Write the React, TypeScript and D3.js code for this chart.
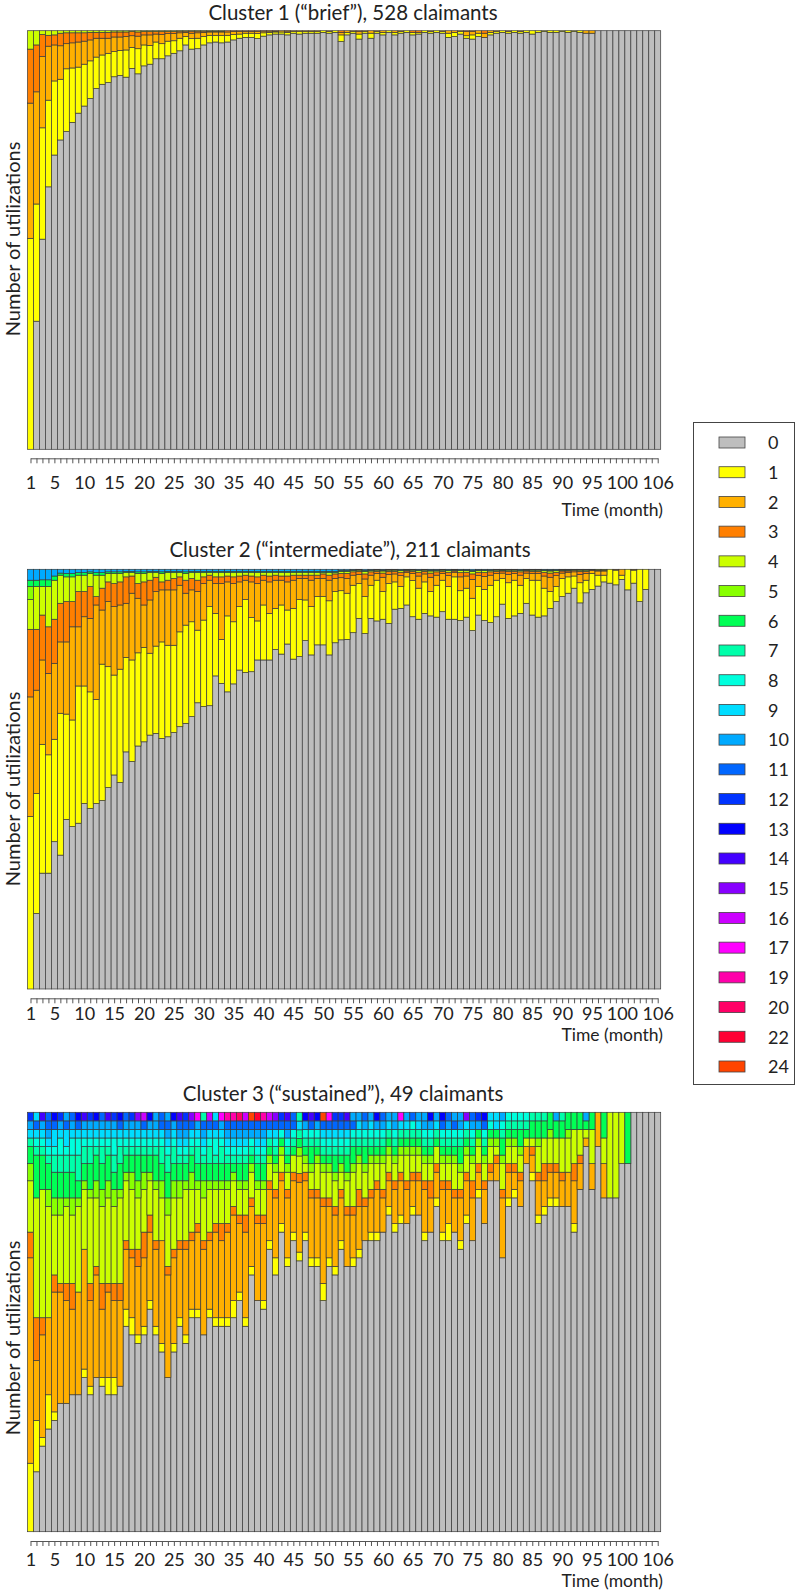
import { useEffect, useRef } from "react";
import * as d3 from "d3";

const FONT = "Lato, 'Open Sans', sans-serif";

const months = d3.range(1, 107);
const tickLabels = [1, 5, 10, 15, 20, 25, 30, 35, 40, 45, 50, 55, 60, 65, 70, 75, 80, 85, 90, 95, 100, 106];

const legendStates = ["0", "1", "2", "3", "4", "5", "6", "7", "8", "9", "10", "11", "12", "13", "14", "15", "16", "17", "19", "20", "22", "24"];
const legendColors = [
  "#bebebe", "#ffff00", "#ffb000", "#ff7f00", "#ccff00", "#88ff00", "#00ff55", "#00ffaa", "#00ffdd", "#00ddff",
  "#00aaff", "#0066ff", "#0033ff", "#0000ff", "#4400ff", "#8800ff", "#cc00ff", "#ff00ff", "#ff00aa", "#ff0066",
  "#ff0033", "#ff4400",
];
const colorOf = (s: string) => legendColors[legendStates.indexOf(s)] || "#bebebe";

// ---- Cluster 1 ("brief"), share of claimants in % (trailing values not listed are 0)
const p1Gray = [0, 30.6, 50.2, 62.7, 70.3, 73.9, 75.9, 78.1, 80.3, 82.0,
  83.8, 86.2, 87.2, 87.6, 89.0, 89.3, 88.9, 91.0, 89.7, 91.6,
  92.0, 93.3, 93.3, 94.0, 94.6, 95.2, 96.6, 95.6, 95.7, 96.6,
  97.1, 97.3, 97.1, 97.3, 97.8, 98.2, 98.4, 98.4, 98.1, 98.7,
  99.0, 99.2, 99.2, 99.0, 99.4, 99.2, 99.4, 99.4, 99.4, 99.6,
  99.4, 99.6, 97.4, 99.0, 99.4, 98.0, 99.4, 98.2, 99.4, 99.0,
  99.6, 99.0, 99.4, 99.6, 99.0, 99.2, 99.6, 99.4, 99.6, 99.4,
  98.4, 98.6, 99.2, 98.2, 98.0, 98.6, 98.4, 99.0, 99.4, 99.6,
  99.4, 99.6, 99.4, 99.6, 99.2, 99.6, 99.8, 99.6, 99.6, 99.8,
  99.6, 99.8, 99.6, 99.4, 99.4, 100, 100, 100, 100, 100,
  100, 100, 100, 100, 100, 100];
const p1One = [50.4, 28.0, 26.6, 20.7, 17.7, 14.5, 15.0, 13.0, 11.0, 10.0,
  9.0, 7.5, 7.0, 7.0, 6.0, 6.0, 6.5, 5.0, 6.0, 5.0,
  4.5, 4.0, 3.6, 3.5, 3.0, 3.0, 2.0, 2.5, 2.5, 2.0,
  1.8, 1.6, 1.8, 1.6, 1.3, 1.0, 1.0, 1.0, 1.2, 0.8,
  0.6, 0.5, 0.5, 0.6, 0.4, 0.6, 0.4, 0.4, 0.4, 0.4,
  0.4, 0.4, 1.6, 0.6, 0.4, 1.2, 0.4, 1.2, 0.4, 0.6,
  0.4, 0.6, 0.4, 0.4, 0.6, 0.4, 0.4, 0.4, 0.4, 0.4,
  1.0, 1.0, 0.6, 0.6, 1.0, 0.8, 0, 0.6, 0.4, 0.4,
  0.4, 0.4, 0.4, 0.4, 0.8, 0.4, 0.2, 0.4, 0.4, 0.2,
  0.4, 0.2, 0.4];
const p1Two = [32.3, 26.8, 17.0, 12.9, 8.6, 8.0, 6.0, 6.0, 6.0, 5.5,
  5.0, 4.5, 4.0, 3.6, 3.5, 3.2, 3.2, 2.8, 3.0, 2.4,
  2.5, 1.9, 2.2, 1.8, 1.7, 1.3, 1.0, 1.3, 1.3, 1.0,
  0.8, 0.8, 0.8, 0.8, 0.7, 0.6, 0.4, 0.4, 0.5, 0.4,
  0.3, 0.2, 0.3, 0.3, 0.2, 0.2, 0.2, 0.2, 0.2, 0,
  0.2, 0, 0.6, 0.4, 0.2, 0.6, 0.2, 0.6, 0.2, 0.4,
  0, 0.4, 0.2, 0, 0, 0, 0, 0.2, 0, 0.2,
  0.6, 0.4, 0.2, 1.0, 0.8, 0.6, 1.0, 0.4, 0.2, 0,
  0.2, 0, 0.2, 0, 0, 0, 0, 0, 0, 0,
  0, 0, 0, 0.6, 0.6];
const p1Three = [12.9, 11.2, 5.3, 2.6, 2.4, 3.0, 2.6, 2.4, 2.2, 2.0,
  1.8, 1.4, 1.4, 1.4, 1.2, 1.2, 1.1, 1.0, 1.0, 0.8,
  0.8, 0.6, 0.7, 0.5, 0.5, 0.4, 0.3, 0.5, 0.4, 0.3,
  0.2, 0.2, 0.2, 0.3, 0.2, 0.2, 0.2, 0.2, 0.2, 0.1,
  0.1, 0.1, 0, 0.1, 0, 0, 0, 0, 0, 0,
  0, 0, 0.4, 0, 0, 0.2, 0, 0, 0, 0,
  0, 0, 0, 0, 0.4, 0.4, 0, 0, 0, 0,
  0, 0, 0, 0.2, 0.2, 0, 0.6];
const p1Four = [4.4, 3.4, 0.9, 1.1, 1.0, 0.6, 0.5, 0.5, 0.5, 0.5,
  0.4, 0.4, 0.4, 0.4, 0.3, 0.3, 0.3, 0.2, 0.3, 0.2,
  0.2, 0.2, 0.2, 0.2, 0.2, 0.1, 0.1, 0.1, 0.1, 0.1,
  0.1, 0.1, 0.1];

// ---- Cluster 2 ("intermediate"), share of claimants in %
const p2Gray = [0, 18.0, 27.6, 27.6, 35.1, 31.9, 40.4, 38.7, 39.5, 44.2,
  43.0, 44.2, 44.9, 48.0, 51.0, 49.2, 56.5, 54.2, 57.9, 58.9,
  60.5, 60.9, 59.7, 60.1, 61.1, 62.5, 63.3, 64.9, 68.2, 67.3,
  67.5, 74.6, 72.8, 70.8, 72.7, 76.0, 75.4, 75.6, 78.4, 78.4,
  78.4, 80.9, 79.8, 82.2, 78.6, 79.2, 83.0, 79.6, 82.0, 82.0,
  79.6, 82.5, 83.2, 83.3, 84.9, 88.3, 84.7, 88.3, 87.7, 88.1,
  87.1, 90.5, 90.7, 91.5, 88.7, 88.1, 89.5, 88.9, 88.6, 89.9,
  88.1, 88.1, 87.8, 88.6, 85.4, 89.1, 87.8, 87.3, 88.7, 91.7,
  88.3, 88.9, 89.5, 91.9, 89.1, 88.6, 88.9, 90.7, 92.3, 93.5,
  94.3, 95.5, 92.0, 94.4, 95.2, 96.0, 97.0, 96.7, 96.3, 97.6,
  95.1, 96.7, 92.3, 95.2, 100, 100];
const p2One = [41.1, 28.6, 30.7, 28.2, 24.4, 33.8, 25.1, 25.4, 32.7, 28.0,
  27.8, 24.8, 32.5, 28.8, 23.8, 27.0, 22.5, 24.2, 22.2, 22.5,
  19.5, 20.8, 23.0, 21.8, 20.8, 22.6, 23.4, 22.6, 17.3, 20.6,
  23.6, 14.9, 10.5, 18.1, 14.8, 15.1, 17.4, 12.9, 9.3, 13.1,
  11.1, 9.8, 11.7, 8.1, 12.1, 13.6, 9.7, 11.5, 11.5, 11.5,
  12.9, 12.2, 11.7, 11.0, 11.3, 8.3, 8.8, 7.9, 9.7, 6.6,
  9.5, 6.5, 5.2, 6.7, 8.6, 7.4, 7.5, 5.8, 7.6, 7.5,
  7.8, 10.1, 7.1, 6.9, 7.7, 6.8, 7.4, 8.9, 8.7, 6.1,
  8.5, 8.5, 6.7, 5.9, 8.3, 8.8, 6.6, 4.0, 3.6, 4.3,
  3.9, 2.9, 4.8, 3.0, 3.8, 2.6, 1.6, 3.3, 3.5, 1.0,
  4.9, 3.1, 7.7, 4.8, 0, 0];
const p2Two = [28.5, 24.6, 20.1, 19.4, 18.1, 17.0, 17.2, 22.2, 14.1, 16.5,
  17.5, 22.5, 12.9, 15.5, 16.3, 15.3, 12.9, 15.9, 13.0, 10.1,
  12.7, 13.0, 12.4, 13.2, 13.2, 11.1, 7.6, 7.6, 9.2, 8.7,
  6.3, 7.1, 13.3, 8.1, 9.1, 5.9, 4.6, 8.5, 8.9, 5.9,
  7.5, 6.7, 5.9, 6.7, 6.7, 5.0, 5.1, 6.3, 4.3, 4.3,
  4.9, 3.1, 3.1, 3.5, 2.4, 2.2, 4.2, 2.4, 1.6, 3.4,
  2.2, 1.9, 2.6, 1.0, 1.7, 2.9, 1.9, 3.4, 2.4, 1.6,
  2.6, 1.0, 3.3, 2.9, 4.5, 2.6, 3.1, 2.4, 1.6, 1.3,
  2.0, 1.6, 2.4, 1.3, 1.6, 1.6, 2.9, 3.4, 2.6, 1.3,
  1.0, 1.0, 2.0, 1.6, 0.7, 1.0, 1.0, 0, 0.2, 1.4,
  0, 0.2];
const p2Three = [16.1, 14.5, 10.7, 11.1, 10.5, 9.2, 9.6, 6.0, 8.4, 6.0,
  7.6, 2.0, 5.2, 4.7, 5.5, 5.5, 6.3, 4.1, 3.5, 5.5,
  4.7, 3.4, 1.9, 2.3, 2.7, 2.0, 3.1, 2.7, 2.7, 1.6,
  1.2, 1.6, 1.6, 1.4, 1.6, 1.4, 1.2, 1.4, 1.6, 1.2,
  1.4, 1.2, 1.0, 1.4, 1.2, 0.8, 0.8, 1.2, 0.8, 1.1,
  1.2, 1.1, 1.0, 1.2, 0.8, 0.7, 1.2, 0.8, 0.5, 1.0,
  0.7, 0.6, 0.8, 0.4, 0.5, 0.9, 0.6, 1.0, 0.8, 0.5,
  0.8, 0.4, 1.0, 0.9, 1.3, 0.8, 0.9, 0.8, 0.5, 0.5,
  0.7, 0.5, 0.8, 0.5, 0.5, 0.5, 0.9, 1.0, 0.8, 0.5,
  0.4, 0.3, 0.7, 0.5, 0.2, 0.2, 0.2];
const p2Four = [7.1, 10.2, 6.8, 9.6, 9.3, 6.7, 5.9, 5.9, 3.9, 3.9,
  3.1, 5.1, 3.1, 2.0, 2.4, 2.0, 1.0, 0.8, 2.4, 2.0,
  1.8, 1.1, 2.0, 1.8, 1.4, 1.0, 1.6, 1.4, 1.8, 1.0,
  0.6, 1.0, 1.0, 0.8, 1.0, 0.8, 0.6, 0.8, 1.0, 0.6,
  0.8, 0.6, 0.8, 0.8, 0.6, 0.6, 0.6, 0.6, 0.6, 0.3,
  0.6, 0.3, 0.5, 0.5, 0.3, 0.3, 0.6, 0.3, 0.3, 0.5,
  0.3, 0.3, 0.4, 0.2, 0.3, 0.4, 0.3, 0.5, 0.3, 0.3,
  0.4, 0.2, 0.5, 0.4, 0.6, 0.4, 0.5, 0.3, 0.3, 0.2,
  0.3, 0.3, 0.3, 0.2, 0.3, 0.3, 0.4, 0.5, 0.4, 0.2,
  0.2, 0.2, 0.3, 0.3, 0.1, 0.2, 0.2];
const p2Five = [3.1];
const p2Six = [1.5, 1.5, 1.6, 1.6, 1.0, 0.5, 0.8, 0.8, 0.6, 0.6,
  0.4, 0.6, 0.6, 0.4, 0.4, 0.4, 0.3, 0.3, 0.4, 0.4,
  0.3, 0.3, 0.4, 0.3, 0.3, 0.3, 0.4, 0.3, 0.3, 0.3,
  0.3, 0.3, 0.3, 0.3, 0.3, 0.3, 0.3, 0.3, 0.3, 0.3,
  0.3, 0.3, 0.3, 0.3, 0.3, 0.3, 0.3, 0.3, 0.3, 0.3,
  0.3, 0.3, 0.2, 0.2, 0.1, 0.1, 0.2, 0.1, 0.1, 0.2,
  0.1, 0.1, 0.1, 0.1, 0.1, 0.1, 0.1, 0.2, 0.1, 0.1,
  0.1, 0.1, 0.1, 0.1, 0.2, 0.1, 0.1, 0.1, 0.1, 0.1,
  0.1, 0.1, 0.1, 0.1, 0.1, 0.1, 0.1, 0.2, 0.1, 0.1,
  0.1, 0.1, 0.1, 0.1];
const p2Ten = [2.6, 2.6, 2.5, 2.5, 1.6, 0.9, 1.0, 1.0, 0.8, 0.8,
  0.6, 0.8, 0.8, 0.6, 0.6, 0.6, 0.5, 0.5, 0.6, 0.6,
  0.5, 0.5, 0.6, 0.5, 0.5, 0.5, 0.6, 0.5, 0.5, 0.5,
  0.5, 0.5, 0.5, 0.5, 0.5, 0.5, 0.5, 0.5, 0.5, 0.5,
  0.5, 0.5, 0.5, 0.5, 0.5, 0.5, 0.5, 0.5, 0.5, 0.5,
  0.5, 0.5, 0.3, 0.3, 0.2, 0.1, 0.3, 0.2, 0.1, 0.2,
  0.1, 0.1, 0.2, 0.1, 0.1, 0.2, 0.1, 0.2, 0.2, 0.1,
  0.2, 0.1, 0.2, 0.2, 0.3, 0.2, 0.2, 0.2, 0.1, 0.1,
  0.1, 0.1, 0.2, 0.1, 0.1, 0.1, 0.2, 0.2, 0.2, 0.1,
  0.1, 0, 0.1, 0.1];

// ---- Cluster 3 ("sustained"), number of claimants out of 49
const p3Gray = [0, 7, 10, 12, 13, 15, 15, 16, 16, 18,
  16, 18, 17, 16, 16, 17, 24, 23, 22, 23,
  26, 23, 21, 18, 21, 24, 22, 25, 25, 23,
  25, 24, 24, 24, 25, 27, 24, 30, 27, 26,
  33, 30, 35, 31, 34, 31, 34, 31, 31, 27,
  31, 30, 33, 31, 31, 32, 34, 34, 34, 35,
  37, 35, 36, 36, 37, 37, 34, 35, 38, 34,
  34, 35, 33, 36, 34, 39, 36, 41, 41, 32,
  38, 39, 38, 43, 41, 36, 37, 38, 38, 38,
  38, 35, 40, 45, 40, 45, 39, 39, 39, 43,
  43, 49, 49, 49, 49, 49];
const p3One = [8, 6, 1, 4, 1, 0, 0, 0, 0, 1,
  1, 0, 1, 2, 2, 0, 2, 2, 1, 1,
  1, 1, 1, 0, 1, 1, 1, 1, 1, 0,
  1, 1, 1, 1, 2, 1, 1, 1, 0, 1,
  1, 2, 1, 1, 1, 1, 1, 1, 1, 2,
  1, 1, 1, 0, 1, 1, 0, 1, 1, 0,
  1, 1, 1, 0, 1, 0, 1, 0, 1, 1,
  2, 0, 1, 1, 0, 1, 0, 0, 0, 0,
  1, 1, 0, 0, 1, 1, 1, 1, 1, 0,
  0, 1];
const p3Two = [24, 7, 12, 9, 14, 13, 12, 10, 12, 14,
  10, 12, 8, 10, 9, 10, 7, 7, 8, 8,
  8, 9, 12, 12, 10, 8, 10, 8, 9, 10,
  8, 10, 9, 10, 10, 8, 10, 7, 9, 9,
  6, 7, 5, 7, 6, 8, 6, 7, 7, 9,
  6, 6, 5, 6, 5, 5, 4, 4, 5, 4,
  3, 4, 4, 4, 3, 4, 5, 4, 3, 5,
  4, 4, 5, 4, 5, 2, 4, 1, 2, 7,
  3, 2, 3, 2, 2, 4, 3, 3, 3, 3,
  4, 5, 3, 1, 3, 4, 4];
const p3Three = [3, 5, 2, 0, 2, 1, 2, 3, 0, 0,
  2, 1, 3, 1, 2, 2, 1, 1, 2, 3,
  2, 1, 0, 1, 1, 1, 1, 1, 1, 1,
  1, 1, 2, 1, 1, 1, 2, 1, 1, 1,
  1, 1, 1, 1, 1, 1, 1, 1, 1, 1,
  1, 1, 1, 1, 1, 2, 1, 1, 1, 1,
  1, 1, 1, 1, 1, 1, 1, 2, 1, 1,
  1, 1, 1, 1, 2, 1, 1, 1, 1, 1,
  1, 1, 1, 0, 1, 1, 2, 1, 1, 1,
  0, 2, 1];
const p3Four = [6, 14, 15, 13, 7, 8, 9, 8, 10, 7,
  10, 8, 9, 10, 9, 10, 7, 7, 6, 5,
  4, 6, 5, 6, 6, 5, 6, 5, 4, 5,
  5, 4, 4, 4, 3, 3, 3, 3, 3, 3,
  2, 2, 2, 2, 2, 2, 1, 2, 3, 3,
  3, 3, 2, 3, 4, 3, 3, 3, 2, 3,
  2, 2, 2, 3, 2, 2, 2, 2, 2, 2,
  2, 3, 2, 2, 2, 2, 2, 2, 1, 3,
  2, 2, 2, 1, 1, 3, 3, 3, 3, 4,
  4, 4, 3, 1, 4, 0, 3, 10, 10, 6];
const p3Five = [2, 0, 0, 2, 2, 2, 1, 2, 1, 1,
  1, 2, 2, 2, 2, 1, 1, 2, 2, 2,
  1, 1, 2, 2, 2, 2, 1, 2, 1, 2,
  1, 1, 1, 1, 1, 1, 1, 1, 1, 1,
  1, 1, 1, 1, 0, 1, 1, 1, 1, 1,
  1, 1, 1, 1, 1, 1, 1, 1, 1, 1,
  1, 1, 1, 1, 1, 1, 1, 1, 0, 1,
  1, 1, 1, 1, 1, 1, 1, 1, 1, 1,
  1, 1, 1, 0, 0, 1, 0, 1, 0, 0,
  1];
const p3Six = [2, 5, 4, 3, 3, 3, 3, 3, 2, 2,
  3, 3, 3, 3, 2, 3, 2, 2, 3, 2,
  2, 3, 2, 3, 2, 2, 2, 2, 2, 2,
  2, 2, 2, 2, 1, 2, 2, 1, 2, 2,
  1, 1, 1, 1, 1, 1, 1, 2, 1, 1,
  1, 2, 1, 2, 2, 1, 2, 1, 1, 1,
  1, 1, 1, 1, 1, 1, 1, 1, 1, 1,
  1, 1, 2, 1, 1, 1, 1, 1, 1, 2,
  1, 1, 2, 1, 2, 2, 2, 2, 2, 2,
  2, 2, 2, 1, 2, 0, 3, 0, 0, 0,
  6];
const p3Seven = [1, 1, 1, 1, 2, 2, 2, 2, 3, 2,
  2, 1, 2, 1, 2, 2, 1, 1, 1, 1,
  1, 1, 2, 2, 2, 1, 1, 1, 2, 1,
  2, 1, 2, 1, 1, 1, 1, 1, 1, 1,
  1, 1, 0, 1, 1, 1, 1, 1, 1, 1,
  1, 1, 1, 1, 1, 1, 1, 1, 1, 1,
  1, 1, 1, 1, 1, 1, 1, 1, 1, 1,
  1, 1, 1, 1, 1, 0, 1, 0, 0, 1,
  1, 1, 1, 1, 1, 1, 1, 0, 0, 1];
const p3Eight = [0, 1, 1, 1, 1, 2, 1, 2, 2, 1,
  1, 1, 1, 1, 2, 1, 1, 1, 1, 1,
  1, 1, 1, 1, 1, 1, 1, 1, 1, 1,
  1, 2, 1, 1, 1, 1, 1, 1, 1, 1,
  0, 1, 1, 1, 1, 0, 1, 1, 1, 1,
  1, 1, 1, 1, 1, 1, 1, 1, 1, 1,
  0, 1, 0, 0, 1, 0, 1, 1, 0, 1,
  1, 1, 1, 0, 1, 0, 1, 1, 0, 1,
  1, 1, 1, 1];
const p3Nine = [1, 1, 1, 1, 2, 1, 2, 1, 1, 1,
  1, 1, 1, 1, 1, 1, 1, 1, 1, 1,
  1, 1, 1, 1, 1, 1, 1, 1, 1, 1,
  1, 1, 1, 1, 1, 1, 1, 0, 1, 1,
  1, 1, 0, 0, 0, 1, 0, 0, 0, 1,
  1, 1, 1, 1, 0, 1, 0, 1, 0, 0,
  1, 0, 1, 1, 0, 1, 0, 0, 1, 0,
  0, 0, 0, 1, 0, 0, 0, 0, 1];
const p3Ten = [1, 0, 1, 1, 0, 1, 0, 1, 0, 1,
  1, 1, 1, 1, 1, 0, 1, 1, 1, 0,
  1, 1, 0, 1, 1, 1, 1, 0, 1, 1,
  0, 0, 1, 1, 1, 1, 1, 1, 1, 1,
  0, 0, 0, 1, 0, 0, 1, 0, 1, 0,
  0, 0, 0, 0, 0, 0, 1, 0, 1, 1,
  0, 1, 0, 0, 0, 0, 1, 1, 0, 0,
  1, 0, 1, 0, 1, 1, 0, 0, 0, 1,
  0, 0, 0, 0, 0, 0, 0, 0, 1, 0,
  0, 0, 0, 1];
const p3Eleven = [0, 1, 0, 1, 1, 0, 1, 0, 1, 0,
  0, 0, 0, 0, 0, 1, 0, 0, 0, 1,
  0, 0, 1, 1, 0, 1, 1, 1, 0, 1,
  1, 1, 0, 1, 1, 1, 1, 1, 1, 1,
  1, 1, 1, 1, 1, 0, 0, 1, 0, 1,
  1, 1, 1, 1, 1, 0, 0, 0, 0, 0,
  0, 0, 0, 0, 0, 0, 0, 0, 0, 1,
  0, 1, 0, 0, 0, 0, 1];
// the top-most claimant of each month and the state it is in
const p3Top = [1, 1, 1, 1, 1, 1, 1, 1, 1, 1,
  1, 1, 1, 1, 1, 1, 1, 1, 1, 1,
  1, 1, 1, 1, 1, 1, 1, 1, 1, 1,
  1, 1, 1, 1, 1, 1, 1, 1, 1, 1,
  1, 1, 1, 1, 1, 1, 1, 1, 1, 1,
  1, 1, 1, 1, 1, 1, 1, 1, 1, 1,
  1, 1, 1, 1, 1, 1, 1, 1, 1, 1,
  1, 1, 1, 1, 1, 1, 1, 1, 1];
const p3TopState = ["12", "9", "14", "11", "13", "12", "10", "11", "13", "14",
  "12", "13", "11", "14", "12", "13", "11", "12", "15", "16",
  "13", "10", "11", "10", "13", "14", "12", "15", "17", "7",
  "16", "9", "17", "19", "19", "20", "16", "24", "22", "19",
  "16", "15", "12", "14", "11", "7", "13", "14", "13", "24",
  "17", "12", "12", "14", "10", "10", "11", "10", "13", "11",
  "10", "10", "17", "10", "11", "10", "10", "13", "10", "13",
  "11", "10", "10", "15", "11", "12", "13", "9", "9"];

type Series = { key: string; values: number[]; colorAt?: (i: number) => string };
type Panel = {
  title: string; titleX: number; titleY: number;
  top: number; bottom: number; tickY: number; tickPad: number; timeY: number; ylabY: number;
  series: Series[];
};

const panels: Panel[] = [
  {
    title: "Cluster 1 (\u201cbrief\u201d), 528 claimants", titleX: 353, titleY: 20,
    top: 30.7, bottom: 449.3, tickY: 458.3, tickPad: 13, timeY: 516, ylabY: 239,
    series: [
      { key: "0", values: p1Gray }, { key: "1", values: p1One }, { key: "2", values: p1Two },
      { key: "3", values: p1Three }, { key: "4", values: p1Four },
    ],
  },
  {
    title: "Cluster 2 (\u201cintermediate\u201d), 211 claimants", titleX: 350, titleY: 557,
    top: 569.3, bottom: 989, tickY: 998.3, tickPad: 3.5, timeY: 1041, ylabY: 789,
    series: [
      { key: "0", values: p2Gray }, { key: "1", values: p2One }, { key: "2", values: p2Two },
      { key: "3", values: p2Three }, { key: "4", values: p2Four }, { key: "5", values: p2Five },
      { key: "6", values: p2Six }, { key: "10", values: p2Ten },
    ],
  },
  {
    title: "Cluster 3 (\u201csustained\u201d), 49 claimants", titleX: 343, titleY: 1101,
    top: 1112.3, bottom: 1531.7, tickY: 1541, tickPad: 7.5, timeY: 1587, ylabY: 1338,
    series: [
      { key: "0", values: p3Gray }, { key: "1", values: p3One }, { key: "2", values: p3Two },
      { key: "3", values: p3Three }, { key: "4", values: p3Four }, { key: "5", values: p3Five },
      { key: "6", values: p3Six }, { key: "7", values: p3Seven }, { key: "8", values: p3Eight },
      { key: "9", values: p3Nine }, { key: "10", values: p3Ten }, { key: "11", values: p3Eleven },
      { key: "top", values: p3Top, colorAt: (i) => colorOf(p3TopState[i]) },
    ],
  },
];

function drawPanel(root: any, p: Panel) {
  const x = d3.scaleBand<number>().domain(months).range([27.5, 660.7]).padding(0);
  const y = d3.scaleLinear().domain([0, 1]).range([p.bottom, p.top]);
  const keys = p.series.map((s) => s.key);

  const rows = months.map((m, i) => {
    const r: any = { month: m, idx: i };
    let tot = 0;
    p.series.forEach((s) => { const v = s.values[i] ?? 0; r[s.key] = v; tot += v; });
    keys.forEach((k) => { r[k] = tot > 0 ? r[k] / tot : 0; });
    return r;
  });
  const layers = d3.stack<any>().keys(keys)(rows);

  const g = root.append("g");
  layers.forEach((layer: any) => {
    const s = p.series.find((q) => q.key === layer.key)!;
    g.append("g")
      .selectAll("rect")
      .data(layer.filter((d: any) => d[1] - d[0] > 1e-6))
      .join("rect")
      .attr("x", (d: any) => x(d.data.month))
      .attr("width", x.bandwidth())
      .attr("y", (d: any) => y(d[1]))
      .attr("height", (d: any) => y(d[0]) - y(d[1]))
      .attr("fill", (d: any) => (s.colorAt ? s.colorAt(d.data.idx) : colorOf(s.key)))
      .attr("stroke", "#3a3a3a")
      .attr("stroke-width", 0.7);
  });

  const half = x.bandwidth() / 2;
  const xp = d3.scalePoint<number>().domain(months).range([x(1)! + half, x(106)! + half]);
  const axis = d3.axisBottom(xp)
    .tickValues(months)
    .tickSize(5)
    .tickSizeOuter(0)
    .tickPadding(p.tickPad)
    .tickFormat((d: number) => (tickLabels.includes(d) ? String(d) : ""));
  const ag = root.append("g").attr("transform", `translate(0,${p.tickY})`).call(axis);
  ag.attr("font-family", FONT).attr("font-size", 18);
  ag.select(".domain").attr("stroke", "#555");
  ag.selectAll(".tick line").attr("stroke", "#555");
  ag.selectAll(".tick text").attr("fill", "#222");

  root.append("text")
    .attr("x", 663).attr("y", p.timeY)
    .attr("text-anchor", "end")
    .attr("font-family", FONT).attr("font-size", 17.5).attr("fill", "#222")
    .text("Time (month)");

  root.append("text")
    .attr("x", p.titleX).attr("y", p.titleY)
    .attr("text-anchor", "middle")
    .attr("font-family", FONT).attr("font-size", 20.5).attr("fill", "#222")
    .text(p.title);

  root.append("text")
    .attr("transform", `translate(19.5,${p.ylabY}) rotate(-90)`)
    .attr("text-anchor", "middle")
    .attr("font-family", FONT).attr("font-size", 20).attr("fill", "#222")
    .text("Number of utilizations");
}

function drawLegend(root: any) {
  const g = root.append("g");
  g.append("rect")
    .attr("x", 693.5).attr("y", 422.5).attr("width", 101).attr("height", 662)
    .attr("fill", "#fff").attr("stroke", "#444").attr("stroke-width", 1);
  const ly = d3.scalePoint<string>().domain(legendStates).range([443, 1067]);
  const item = g.selectAll("g.item").data(legendStates).join("g")
    .attr("transform", (d: string) => `translate(0,${ly(d)})`);
  item.append("rect")
    .attr("x", 719).attr("y", -6).attr("width", 26).attr("height", 11)
    .attr("fill", (d: string) => colorOf(d)).attr("stroke", "#444").attr("stroke-width", 0.8);
  item.append("text")
    .attr("x", 768).attr("y", 0).attr("dy", "0.35em")
    .attr("font-family", FONT).attr("font-size", 18).attr("fill", "#222")
    .text((d: string) => d);
}

const App = () => {
  const ref = useRef<SVGSVGElement>(null);

  useEffect(() => {
    if (!ref.current) return;
    const svg = d3.select(ref.current);
    svg.selectAll("*").remove();
    svg.append("rect").attr("width", 800).attr("height", 1595).attr("fill", "#fff");
    panels.forEach((p) => drawPanel(svg, p));
    drawLegend(svg);
  }, []);

  return (
    <svg ref={ref} width={800} height={1595}
      style={{ position: "absolute", left: 0, top: 0, display: "block" }} />
  );
};

export default App;
